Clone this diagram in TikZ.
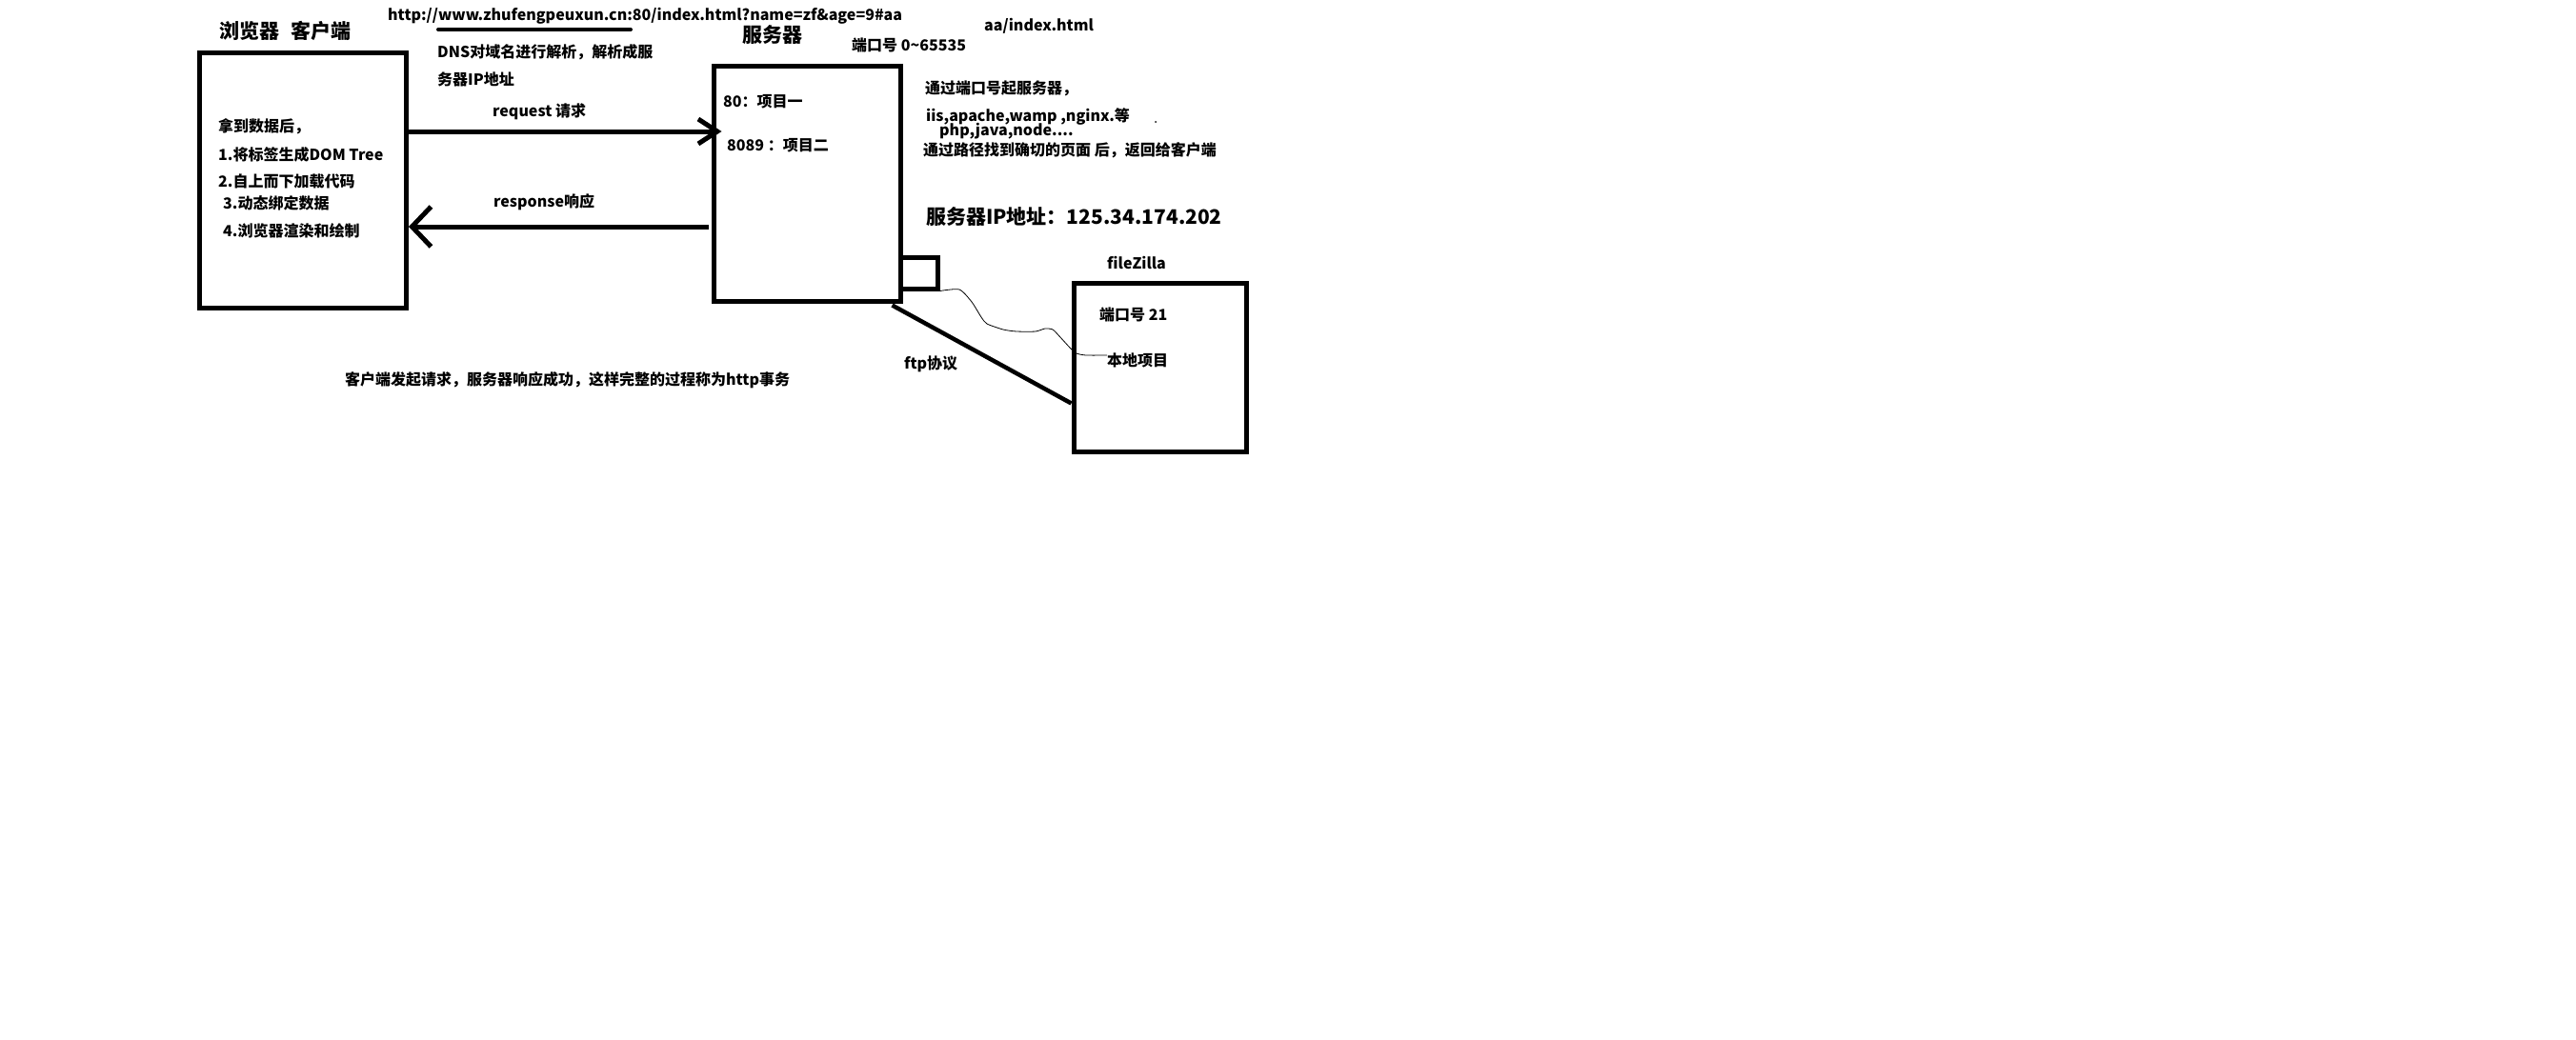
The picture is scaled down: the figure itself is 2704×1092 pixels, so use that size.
\documentclass[tikz,border=0pt]{standalone}
\usepackage{fontspec}
\setmainfont{Noto Sans CJK SC}
\usetikzlibrary{arrows.meta,calc}
\tikzset{
  box/.style={draw, line width=5pt, inner sep=0pt},
  pen/.style={line width=5pt},
  txt/.style={anchor=west, inner sep=0pt, font=\bfseries\fontsize{16pt}{16pt}\selectfont},
  big/.style={anchor=west, inner sep=0pt, font=\bfseries\fontsize{21pt}{21pt}\selectfont},
  wire/.style={line width=0.8pt}
}

\begin{document}
\begin{tikzpicture}[x=1pt,y=-1pt]
        \fill[white] (0,0) rectangle (2704,1092);
        \node[box, minimum width=217pt, minimum height=268pt] (client) at (318,189) {};
        \node[box, minimum width=196pt, minimum height=247pt] (server) at (847,192.5) {};
        \node[box, minimum width=39pt, minimum height=33pt] (port) at (964.5,286.5) {};
        \node[box, minimum width=181pt, minimum height=177pt] (filezilla) at (1217.5,385.5) {};
        \node[big] (clienttitle) at (230,32) {浏览器\hspace{0.6em}客户端};
        \node[big] (servertitle) at (779,37) {服务器};
        \node[txt] (url) at (407,17)
            {http://www.zhufengpeuxun.cn:80/index.html?name=zf\&age=9\#aa};
        \draw[line width=4pt, line cap=round] (460,31) -- (662,31);
        \node[txt] (dns) at (459,55) {DNS对域名进行解析，解析成服};
        \node[txt] (dns2) at (459,83) {务器IP地址};
        \node[txt] (portrange) at (894,47) {端口号 0\textasciitilde65535};
        \node[txt] (path) at (1033,27) {aa/index.html};
        \foreach \x/\y/\t in {229/133/拿到数据后，, 229/162/1.将标签生成DOM Tree,
            229/190/2.自上而下加载代码, 234/213/3.动态绑定数据, 234/242/4.浏览器渲染和绘制}
        \node[txt] at (\x,\y) {\t};
        \node[txt] (proj1) at (759,107) {80：项目一};
        \node[txt] (proj2) at (763,153) {8089 ：项目二};
        \node[txt] (reqlabel) at (517,117) {request 请求};
        \node[txt] (resplabel) at (518,212) {response响应};
        \node[txt] (start) at (971,93) {通过端口号起服务器，};
        \node[txt] (soft) at (972,122) {iis,apache,wamp ,nginx.等};
        \node[txt] (lang) at (986,138) {php,java,node....};
        \node[txt] (find) at (969,158) {通过路径找到确切的页面 后，返回给客户端};
        \fill (1213,128) circle (1pt);
        \node[big] (ip) at (972,228) {服务器IP地址：125.34.174.202};
        \node[txt] (fztitle) at (1162,276) {fileZilla};
        \node[txt] (fzport) at (1154,330) {端口号 21};
        \node[txt] (local) at (1162,378) {本地项目};
        \node[txt] (ftp) at (949,382) {ftp协议};
        \node[txt] (summary) at (362,399) {客户端发起请求，服务器响应成功，这样完整的过程称为http事务};
        \coordinate (req) at ([yshift=51pt]client.east);
        \coordinate (resp) at ([yshift=-49pt]client.east);
        \draw[pen, -{Straight Barb[length=20pt, width=26pt]}] (req) -- ($(req -| server.west)+(11,0)$);
        \draw[pen, -{Straight Barb[length=20pt, width=42pt]}] ($(resp -| server.west)+(-3,0)$) -- (resp);
        \draw[line width=4.5pt] ([xshift=-11pt,yshift=-2pt]server.south east) -- ([yshift=-38pt]filezilla.west);
        \draw[wire] plot[smooth, tension=0.4] coordinates {(port.south east) (1007,304) (1020,317) (1030,333)
            (1036,340) (1053,346) (1067,348) (1087,348) (1097,345) (1105,346) (1112,353) (1123,365)
            (1130,371) (1140,373) ([yshift=5pt]local.west)};
    \end{tikzpicture}
\end{document}
